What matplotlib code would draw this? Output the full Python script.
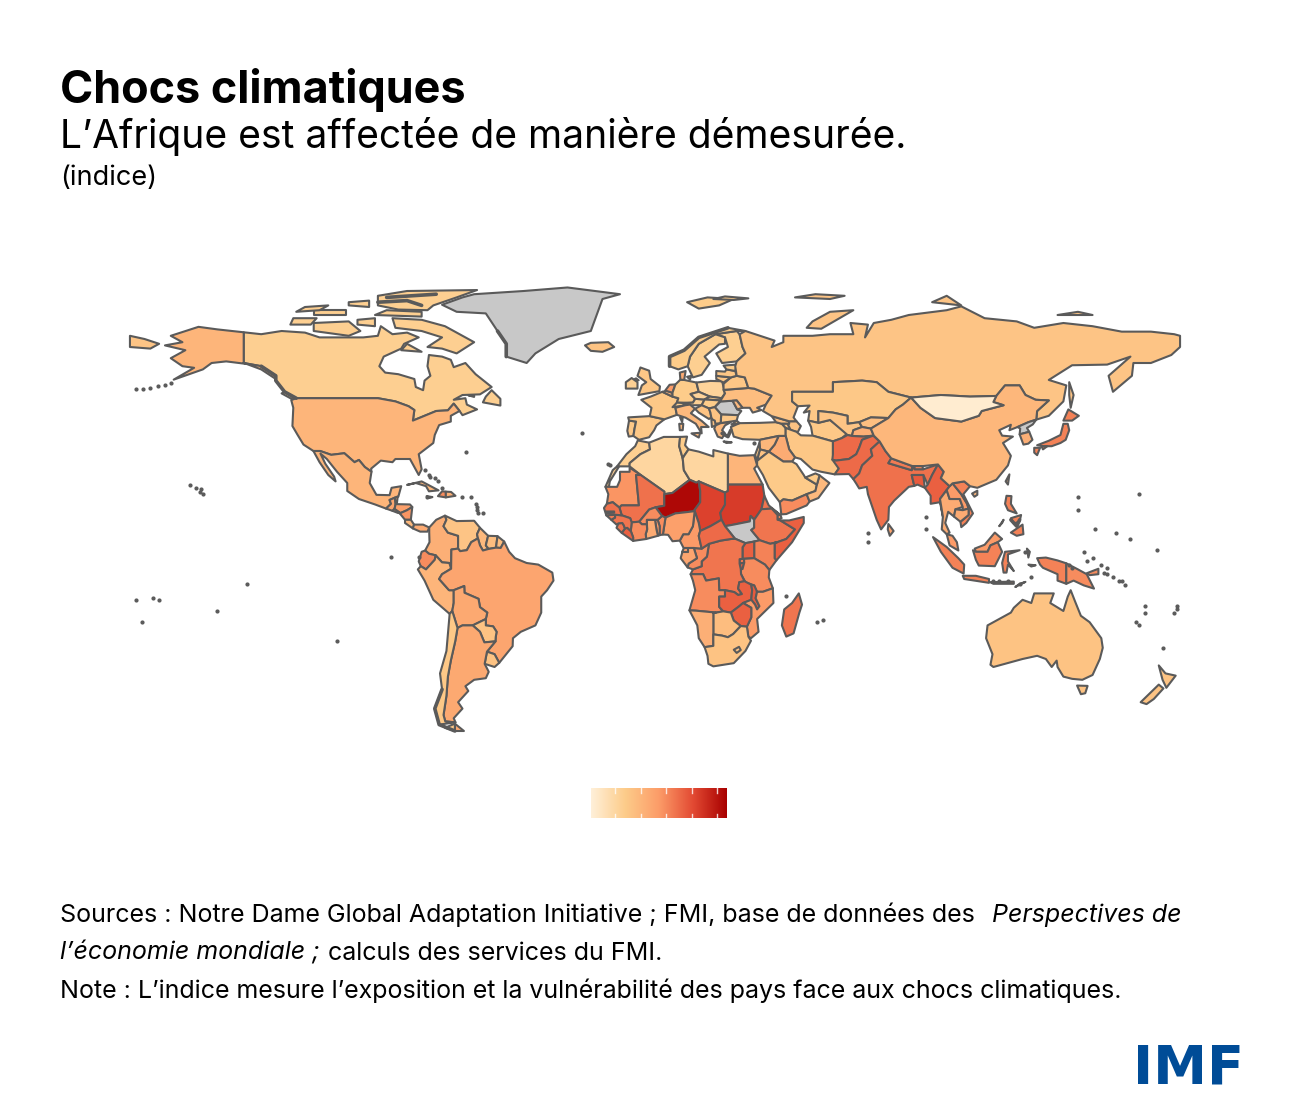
import numpy as np
import matplotlib
matplotlib.use("Agg")
import matplotlib.pyplot as plt
from matplotlib.colors import LinearSegmentedColormap

# index by country, None = no data (grey)
countries = ["Canada", "USA", "Alaska", "Greenland", "Iceland", "Mexico", "Guatemala", "Belize", "Honduras", "Salvador",
             "Nicaragua", "CostaRica", "Panama", "Cuba", "Haiti", "DomRep", "Jamaica", "Colombia", "Venezuela", "Guyana",
             "Suriname", "FrGuiana", "Ecuador", "Peru", "Brazil", "Bolivia", "Paraguay", "Uruguay", "Argentina", "Chile",
             "Morocco", "Algeria", "Tunisia", "Libya", "Egypt", "Mauritania", "Mali", "Niger", "Chad", "Sudan",
             "SouthSudan", "Eritrea", "Djibouti", "Ethiopia", "Somalia", "Kenya", "Uganda", "Rwanda", "Burundi", "Tanzania",
             "DRC", "Angola", "Congo", "Gabon", "EqGuinea", "Cameroon", "CAR", "Nigeria", "Benin", "Togo",
             "Ghana", "Burkina", "IvoryCoast", "Liberia", "SierraLeone", "Guinea", "GuineaBissau", "Senegal", "Gambia", "Zambia",
             "Malawi", "Mozambique", "Zimbabwe", "Botswana", "Namibia", "SouthAfrica", "Lesotho", "Madagascar",
             "Portugal", "Spain", "France", "Belgium", "Netherlands", "Germany", "Denmark", "Switzerland", "Austria", "Italy",
             "UK", "Ireland", "Poland", "Czechia", "Slovakia", "Hungary", "Romania", "Bulgaria", "Ukraine", "Moldova",
             "Belarus", "Lithuania", "Latvia", "Estonia", "Finland", "Sweden", "Norway", "Balkans", "Serbia", "Albania",
             "Greece", "Turkey", "Georgia", "Armenia", "Azerbaijan", "Russia", "Kazakhstan", "Turkmenistan", "Uzbekistan", "Kyrgyzstan",
             "Tajikistan", "Iran", "Iraq", "Syria", "Jordan", "Israel", "SaudiArabia", "Yemen", "Oman", "UAE",
             "Afghanistan", "Pakistan", "India", "Bangladesh", "Nepal", "Bhutan", "SriLanka", "Myanmar", "Thailand", "Laos",
             "Vietnam", "Cambodia", "Malaysia", "Indonesia", "PapuaNG", "Philippines", "China", "Mongolia", "NorthKorea", "SouthKorea",
             "Japan", "Australia", "NewZealand"]
values = [0.23, 0.37, 0.37, None, 0.30, 0.37, 0.45, 0.40, 0.48, 0.45,
          0.52, 0.35, 0.42, 0.36, 0.55, 0.40, 0.36, 0.40, 0.29, 0.35,
          0.33, 0.33, 0.55, 0.37, 0.45, 0.43, 0.30, 0.30, 0.43, 0.27,
          0.23, 0.18, 0.25, 0.18, 0.37, 0.52, 0.63, 0.97, 0.78, 0.80,
          None, 0.62, 0.55, 0.62, 0.68, 0.58, 0.68, 0.60, 0.68, 0.55,
          0.62, 0.55, 0.55, 0.45, 0.50, 0.50, 0.65, 0.48, 0.55, 0.50,
          0.42, 0.55, 0.55, 0.68, 0.62, 0.62, 0.60, 0.63, 0.55, 0.68,
          0.70, 0.50, 0.68, 0.33, 0.40, 0.30, 0.30, 0.62,
          0.27, 0.27, 0.27, 0.38, 0.50, 0.25, 0.42, 0.22, 0.22, 0.35,
          0.28, 0.22, 0.20, 0.20, 0.25, 0.25, None, 0.27, 0.33, 0.35,
          0.28, 0.28, 0.28, 0.25, 0.23, 0.23, 0.25, 0.30, 0.30, 0.32,
          0.35, 0.27, 0.32, 0.30, 0.30, 0.29, 0.27, 0.27, 0.29, 0.32,
          0.40, 0.28, 0.42, 0.36, 0.30, 0.28, 0.26, 0.55, 0.35, 0.25,
          0.65, 0.65, 0.63, 0.70, 0.60, 0.58, 0.45, 0.68, 0.42, 0.50,
          0.58, 0.42, 0.50, 0.58, 0.55, 0.58, 0.36, 0.03, None, 0.40,
          0.58, 0.30, 0.30]

# outlines in lon/lat
outlines = {
    "Canada": [[(-141,69.6),(-135,69),(-128,70),(-120,69.5),(-115,68),(-108,68),(-100,68),(-95,68.5),(-94,71.5),(-90,69),(-85,69.5),(-81,68),(-86,66),(-87,64.5),(-93,62),(-94.5,59),(-92.5,57),(-88,56.5),(-82.5,55),(-82,52.5),(-79.5,51.5),(-79,54.5),(-77,56),(-78,59),(-77.5,62.5),(-73,62),(-70,61),(-69,58.7),(-65,60),(-61.5,56.5),(-56,52.5),(-60,50.2),(-66,50),(-69,48.5),(-65,49),(-64.5,47),(-61,45.5),(-66,43.7),(-67,45),(-69,47.3),(-71,45.2),(-75,45),(-79,43.5),(-83,42),(-82.5,45.3),(-84.5,46.5),(-89,48),(-95,49),(-123,49),(-127,51),(-130,54.5),(-130,56),(-135,59),(-141,60)],
               [(-62,66.5),(-68,63),(-73,64.5),(-78,65),(-73,68),(-80,70),(-89,71),(-90,74),(-80,73.5),(-72,71.5),(-67,69)],
               [(-117,70),(-105,68.5),(-101,70),(-105,73),(-117,72.5)],
               [(-125,72),(-118,72),(-116,74),(-124,74)],
               [(-95,81),(-85,82.5),(-61,82.8),(-68,80.5),(-76,78),(-78,76.5),(-88,76.7),(-95,78)],
               [(-96,75),(-80,74.5),(-80,76),(-92,76.5)],
               [(-117,75),(-106,75),(-106,76.5),(-117,76.5)],
               [(-87,64),(-80,63.5),(-85,66)],
               [(-59,47.7),(-53,46.7),(-53,48.8),(-56,51.5),(-58,49.5)],
               [(-128,50.5),(-124,48.5),(-123.5,49),(-127,51)],
               [(-102,72),(-96,71.5),(-96,74),(-102,73.5)],
               [(-64,49.9),(-62,49.4),(-62,49.9)],
               [(-123,76),(-115,76.5),(-112,78),(-120,77.5)],
               [(-105,78),(-98,77.5),(-98,79.5),(-105,79)]],
    "USA": [[(-123,49),(-95,49),(-89,48),(-84.5,46.5),(-82.5,45.3),(-83,42),(-79,43.5),(-75,45),(-71,45.2),(-69,47.3),(-67,45),(-70,43.5),(-70,41.7),(-74,40.6),(-75.5,37.5),(-76,35),(-81,31.5),(-80,26.8),(-81,25),(-82.8,28),(-84,30),(-89,30),(-90,29),(-94,29.5),(-97.3,27),(-97.2,26),(-99.5,27.5),(-101.5,29.7),(-103,29),(-106.5,31.8),(-111,31.3),(-114.8,32.5),(-117.1,32.5),(-120.5,34.5),(-122.5,37.5),(-124.3,40.3),(-124,46),(-124.7,48.4)]],
    "Alaska": [[(-141,69.6),(-150,70.5),(-156.5,71.3),(-166,68.5),(-162,66.5),(-168,65.5),(-161,64),(-166,61.5),(-162,59),(-158,58.5),(-165,54.8),(-155,58),(-152,60),(-147,60.5),(-140,59.7),(-135,58),(-130,55),(-130,56),(-135,59),(-141,60)]],
    "Greenland": [[(-73,78.2),(-68,76),(-58,75.5),(-54,70),(-51,66),(-51,62),(-44,60),(-41,63),(-33,67.5),(-22,70),(-20,75),(-18,80),(-12,81.5),(-30,83.6),(-45,82.5),(-62,81.5),(-66,80.5)]],
    "Iceland": [[(-24,65.5),(-22,63.8),(-18,63.5),(-14,65),(-16,66.5),(-22,66.3)]],
    "Mexico": [[(-117.1,32.5),(-114.8,32.5),(-111,31.3),(-106.5,31.8),(-103,29),(-101.5,29.7),(-99.5,27.5),(-97.2,26),(-97.8,22.5),(-95.5,18.8),(-91,18.7),(-90.3,21),(-87,21.5),(-88,18.2),(-89.2,17.9),(-91,17.2),(-90.5,16),(-92.2,14.5),(-96,15.8),(-101.5,17.5),(-105.5,20),(-105.5,22.5),(-109,26),(-112.5,30),(-114.7,31.7),(-113,28.5),(-110,24.5),(-109.5,23),(-112,25),(-115,29)]],
    "Guatemala": [[(-92.2,14.5),(-90.5,16),(-91,17.2),(-89.2,17.9),(-88.9,15.9),(-89.3,14.4),(-90,13.8)]],
    "Belize": [[(-89.2,17.9),(-88.2,18.3),(-88.5,16),(-88.9,15.9)]],
    "Honduras": [[(-88.9,15.9),(-84,15.8),(-83.2,15),(-85,14),(-87.5,13),(-89.3,14.4)]],
    "Salvador": [[(-90,13.8),(-89.3,14.4),(-87.5,13.3),(-88,13.1)]],
    "Nicaragua": [[(-87.5,13),(-85,14),(-83.2,15),(-83.7,11),(-85.7,11)]],
    "CostaRica": [[(-85.7,11),(-83.7,11),(-82.6,9.5),(-83,8.3),(-85.7,10)]],
    "Panama": [[(-83,8.3),(-82.6,9.5),(-79.5,9.5),(-77.4,8.6),(-78,7.3),(-80.5,7.3)]],
    "Cuba": [[(-85,21.9),(-80,23),(-74.2,20.2),(-77.5,19.9),(-78.5,21.5),(-82,22.5)]],
    "Haiti": [[(-74.4,18.4),(-71.7,18),(-71.7,19.8),(-73,19.9)]],
    "DomRep": [[(-71.7,18),(-68.4,18.5),(-69.9,19.7),(-71.7,19.8)]],
    "Jamaica": [[(-78.3,18.4),(-76.3,18.1),(-77.3,17.8)]],
    "Colombia": [[(-77.4,8.6),(-75,11),(-72,12.3),(-71.5,11),(-72.5,9),(-71,7),(-67.5,6),(-67.5,2),(-69.8,1.7),(-69.9,-4.3),(-70.5,-2.5),(-73,-2.3),(-75.2,-0.1),(-77.5,0.4),(-78.8,1.4),(-77.3,4),(-77.4,7)]],
    "Venezuela": [[(-72,12.3),(-68,10.6),(-62,10.7),(-60,8.5),(-61,6.5),(-60.7,5.2),(-63,4),(-64.5,1.5),(-66.8,1.2),(-67.5,2),(-67.5,6),(-71,7),(-72.5,9),(-71.5,11)]],
    "Guyana": [[(-60,8.5),(-57.2,6),(-58,3),(-57,1.9),(-59,1.4),(-60,3),(-60.7,5.2),(-61,6.5)]],
    "Suriname": [[(-57.2,6),(-54,5.9),(-54.5,2.3),(-57,1.9),(-58,3)]],
    "FrGuiana": [[(-54,5.9),(-51.7,4.2),(-52.9,2.2),(-54.5,2.3)]],
    "Ecuador": [[(-80,1),(-78.8,1.4),(-77.5,0.4),(-75.2,-0.1),(-75.5,-1.5),(-78.5,-4.5),(-80.3,-3.5),(-81,-2)]],
    "Peru": [[(-81.3,-4.5),(-80.3,-3.5),(-78.5,-4.5),(-75.5,-1.5),(-75.2,-0.1),(-73,-2.3),(-70.5,-2.5),(-69.9,-4.3),(-73,-6),(-74,-7.5),(-70.6,-11),(-69,-11),(-69,-15),(-69.5,-17.5),(-70.4,-18.4),(-76,-14),(-79,-8)]],
    "Brazil": [[(-51.7,4.2),(-50,1),(-48,-1),(-44,-2.5),(-40,-3),(-35.2,-5.5),(-34.8,-8),(-37,-11),(-39,-13),(-39,-18),(-41,-22),(-46,-24),(-48.7,-26),(-48.8,-28.5),(-53.4,-33.7),(-55,-31),(-57.6,-30.2),(-54.7,-27),(-54.6,-25.6),(-54.3,-24),(-55.5,-22.3),(-58,-22),(-58,-20),(-57.5,-18),(-60,-16.3),(-60.5,-13.7),(-65.3,-11.8),(-65.4,-9.7),(-69,-11),(-70.6,-11),(-74,-7.5),(-73,-6),(-69.9,-4.3),(-69.8,1.7),(-67.5,2),(-66.8,1.2),(-64.5,1.5),(-63,4),(-60.7,5.2),(-60,3),(-59,1.4),(-57,1.9),(-54.5,2.3),(-52.9,2.2)]],
    "Bolivia": [[(-69,-11),(-65.4,-9.7),(-65.3,-11.8),(-60.5,-13.7),(-60,-16.3),(-57.5,-18),(-58,-20),(-62.5,-22),(-64,-22),(-66,-22),(-67.7,-22.8),(-69.5,-17.5),(-69,-15)]],
    "Paraguay": [[(-58,-20),(-58,-22),(-55.5,-22.3),(-54.3,-24),(-54.6,-25.6),(-54.7,-27),(-58.5,-27.3),(-60,-24),(-62.5,-22)]],
    "Uruguay": [[(-57.6,-30.2),(-55,-31),(-53.4,-33.7),(-55,-35),(-58.4,-34)]],
    "Argentina": [[(-66,-22),(-64,-22),(-62.5,-22),(-60,-24),(-58.5,-27.3),(-54.7,-27),(-57.6,-30.2),(-58.4,-34),(-57,-36.5),(-58,-38.5),(-62,-39),(-65,-41),(-64,-42.5),(-67.5,-46),(-66,-48),(-69,-51),(-68.4,-52.3),(-71.9,-52),(-72.5,-50),(-71.5,-44),(-71,-38),(-70,-33),(-68.5,-27),(-67.7,-22.8)],
                  [(-68.6,-52.7),(-65.5,-55),(-68.6,-55)]],
    "Chile": [[(-69.5,-17.5),(-67.7,-22.8),(-68.5,-27),(-70,-33),(-71,-38),(-71.5,-44),(-72.5,-50),(-71.9,-52),(-68.4,-52.3),(-74,-53),(-75.5,-48),(-73,-42),(-73.7,-37),(-71.5,-30),(-70.4,-18.4)],
              [(-68.6,-52.7),(-68.6,-55),(-72,-54)]],
    "Morocco": [[(-5.9,35.8),(-2,35.1),(-1.7,33),(-5,31.5),(-8.7,28.7),(-8.7,27.7),(-13,27.7),(-9.8,31.5),(-6.8,34)],
                [(-13,27.7),(-12.3,27.7),(-15.5,23),(-15.8,21.3),(-17,21.3),(-14.5,26.5)]],
    "Algeria": [[(-2,35.1),(3,36.9),(8.6,36.9),(8.3,34),(9.5,30.2),(9.9,26.5),(11.9,23.5),(6,19.4),(3.2,19),(3.2,19.8),(-4.9,25),(-8.7,27.7),(-8.7,28.7),(-5,31.5),(-1.7,33)]],
    "Tunisia": [[(8.6,36.9),(11,37),(10.3,34.3),(11.5,33),(10,31),(9.5,30.2),(8.3,34)]],
    "Libya": [[(11.5,33),(15,32.3),(20,30.8),(20,32.8),(25,31.7),(25,20),(24,19.5),(15,23),(14.2,22.6),(11.9,23.5),(9.9,26.5),(9.5,30.2),(10,31)]],
    "Egypt": [[(25,31.7),(29,31),(34,31.2),(35,28),(34,27),(36.9,22),(25,22)]],
    "Mauritania": [[(-17,21.3),(-13,21.3),(-12,23.4),(-12,26),(-8.7,26),(-8.7,27.3),(-4.9,25),(-6.5,25),(-5.5,15.5),(-11.5,15.5),(-12.2,14.8),(-14.5,16.5),(-16.5,16),(-16,19)]],
    "Mali": [[(-4.9,25),(3.2,19.8),(3.2,15.4),(0.2,14.9),(-2,14.2),(-5.4,10.4),(-8,10.2),(-8.5,11.5),(-11.4,12.4),(-12.2,14.8),(-11.5,15.5),(-5.5,15.5),(-6.5,25)]],
    "Niger": [[(3.2,19),(6,19.4),(11.9,23.5),(14.2,22.6),(15,23),(15.5,20),(15.5,16.5),(13.5,14),(13.6,13.7),(10,13.3),(7,13),(3.6,11.7),(2.4,12.2),(0.2,14.9),(3.2,15.4)]],
    "Chad": [[(15,23),(24,19.5),(24,15.7),(22.4,13.2),(22.8,11),(19,9),(15.5,7.5),(15,10),(13.6,13.7),(13.5,14),(15.5,16.5),(15.5,20)]],
    "Sudan": [[(25,22),(36.9,22),(37.5,18.5),(36.5,14.3),(34,11),(32.8,12.2),(32.5,10.5),(27,9.5),(24,9),(22.8,11),(22.4,13.2),(24,15.7),(24,19.5),(25,20)]],
    "SouthSudan": [[(24,9),(27,9.5),(32.5,10.5),(32.8,12.2),(34,11),(34,8.5),(33,7.8),(35.9,4.6),(34,4.2),(31,3.7),(27.4,5.1)]],
    "Eritrea": [[(36.5,14.3),(37.5,18.5),(39,15.5),(43,12.5),(40,14.5)]],
    "Djibouti": [[(43,12.5),(43.4,11.5),(42,11),(42,12.5)]],
    "Ethiopia": [[(36.5,14.3),(40,14.5),(42,12.5),(42,11),(43,10.8),(48,8),(45,5),(41.9,4),(39.5,3.5),(35.9,4.6),(33,7.8),(34,8.5),(34,11)]],
    "Somalia": [[(43,10.8),(46,10.8),(51,11.9),(51,10),(47,4),(41.6,-1.7),(41,-1),(41,3.8),(41.9,4),(45,5),(48,8)]],
    "Kenya": [[(41.6,-1.7),(39.2,-4.7),(37.7,-3),(34,-1),(34,4.2),(35.9,4.6),(39.5,3.5),(41.9,4),(41,3.8),(41,-1)]],
    "Uganda": [[(34,4.2),(34,-1),(30,-1.2),(30,2.4),(31,3.7)]],
    "Rwanda": [[(29,-1.3),(30.5,-1.2),(30.6,-2.4),(29,-2.7)]],
    "Burundi": [[(29,-2.7),(30.6,-2.4),(30,-4.4),(29.4,-4.4)]],
    "Tanzania": [[(34,-1),(37.7,-3),(39.2,-4.7),(39,-7),(40.4,-10.4),(37,-11.5),(34.9,-11.5),(34,-9.5),(31,-8.5),(29.5,-6),(29.4,-4.4),(30,-4.4),(30.6,-2.4),(30.5,-1.2)]],
    "DRC": [[(12.2,-6),(13,-4.5),(16,-3.5),(16,-2),(17.8,-0.5),(18.5,3.5),(22.5,4.5),(26,5),(27.4,5.1),(31,3.7),(30,2.4),(30,-1.2),(29,-1.3),(29,-2.7),(29.4,-4.4),(29.5,-6),(30.7,-8.2),(28.9,-8.5),(28.5,-10.5),(29.8,-12.2),(28.5,-12.5),(27.2,-11.6),(24,-11),(22,-11),(21.9,-7.3),(17.5,-8),(16.5,-6)]],
    "Angola": [[(12.2,-6),(16.5,-6),(17.5,-8),(21.9,-7.3),(22,-11),(24,-11),(24,-13),(22,-13),(22,-16.2),(23.4,-17.6),(21,-18),(14,-17.4),(11.8,-17.3),(13.8,-11),(13,-8)]],
    "Congo": [[(11.2,-3.9),(13,-4.5),(16,-3.5),(16,-2),(17.8,-0.5),(18.5,3.5),(16,2),(13.3,2.2),(14.4,-1),(11.5,-2.7)]],
    "Gabon": [[(9.4,1),(11.3,1),(11.3,2.2),(13.3,2.2),(14.4,-1),(11.5,-2.7),(11.2,-3.9),(8.8,-1)]],
    "EqGuinea": [[(9.4,1),(11.3,1),(11.3,2.2),(9.8,2.2)]],
    "Cameroon": [[(8.5,4.5),(9.8,2.2),(13.3,2.2),(16,2),(15,6),(15.5,7.5),(15,10),(13.6,13.7),(13,9),(11.5,6.5),(9.7,6.5)]],
    "CAR": [[(15.5,7.5),(15,6),(16,2),(18.5,3.5),(22.5,4.5),(26,5),(27.4,5.1),(24,9),(22.8,11),(19,9)]],
    "Nigeria": [[(2.7,6.4),(3.6,11.7),(7,13),(10,13.3),(13.6,13.7),(13,9),(11.5,6.5),(9.7,6.5),(8.5,4.5),(6,4.3),(4.5,6.3)]],
    "Benin": [[(1.6,6.2),(2.7,6.4),(3.6,11.7),(2.4,12.2),(0.9,11),(1.6,9)]],
    "Togo": [[(1,6),(1.6,6.2),(1.6,9),(0.9,11),(0,11),(0.5,8)]],
    "Ghana": [[(-3,5),(1,6),(0.5,8),(0,11),(-2.8,11),(-2.7,8),(-3.2,6.5)]],
    "Burkina": [[(-5.4,10.4),(-2,14.2),(0.2,14.9),(2.4,12.2),(0.9,11),(0,11),(-2.8,11),(-2.8,9.6),(-4.5,9.6)]],
    "IvoryCoast": [[(-7.5,4.4),(-3,5),(-3.2,6.5),(-2.7,8),(-2.8,9.6),(-4.5,9.6),(-5.4,10.4),(-8,10.2),(-8.3,7.5),(-7.5,5.5)]],
    "Liberia": [[(-11.4,6.9),(-7.5,4.4),(-7.5,5.5),(-8.3,7.5),(-9.5,8.5),(-10.3,8.3)]],
    "SierraLeone": [[(-13.2,8.5),(-11.4,6.9),(-10.3,8.3),(-10.7,9.3),(-11.2,10),(-12.5,9.9)]],
    "Guinea": [[(-15,11),(-13.2,9.5),(-12.5,9.9),(-11.2,10),(-10.7,9.3),(-10.3,8.3),(-9.5,8.5),(-8.3,7.5),(-8,10.2),(-8.5,11.5),(-11.4,12.4),(-13.7,12.6),(-13.7,11.7)]],
    "GuineaBissau": [[(-16.7,12.4),(-13.7,12.6),(-13.7,11.7),(-15,11)]],
    "Senegal": [[(-16.5,16),(-14.5,16.5),(-12.2,14.8),(-11.4,12.4),(-13.7,12.6),(-16.7,12.4),(-17.5,14.7)]],
    "Gambia": [[(-16.8,13.6),(-14,13.6),(-14,13.2),(-16.8,13.1)]],
    "Zambia": [[(22,-13),(24,-13),(24,-11),(27.2,-11.6),(28.5,-12.5),(29.8,-12.2),(28.5,-10.5),(28.9,-8.5),(30.7,-8.2),(33,-9.3),(33.3,-11),(33,-14),(30.2,-15),(28.9,-16),(26,-18),(23.4,-17.6),(22,-16.2)]],
    "Malawi": [[(33,-9.3),(34,-9.5),(35,-11.5),(34.5,-13.5),(35.8,-16),(35,-17),(34.3,-15.5),(33,-14),(33.3,-11)]],
    "Mozambique": [[(34.9,-11.5),(37,-11.5),(40.4,-10.4),(40.6,-15),(35,-20),(35.5,-24),(32.9,-26),(32,-25.5),(31.5,-22.4),(33,-19.5),(33,-16.5),(30.2,-15),(33,-14),(34.3,-15.5),(35,-17),(35.8,-16),(34.5,-13.5),(35,-11.5)]],
    "Zimbabwe": [[(26,-18),(28.9,-16),(30.2,-15),(33,-16.5),(33,-19.5),(31.5,-22.4),(29.4,-22.2),(27,-20.5)]],
    "Botswana": [[(20,-18.2),(21,-18),(23.4,-17.6),(26,-18),(27,-20.5),(29.4,-22.2),(26.8,-24.7),(25,-25.7),(23,-25.2),(20,-24.8),(20,-22)]],
    "Namibia": [[(11.8,-17.3),(14,-17.4),(21,-18),(20,-18.2),(20,-22),(20,-28.4),(17,-28.8),(15,-26),(14.5,-22)]],
    "SouthAfrica": [[(17,-28.8),(20,-28.4),(20,-24.8),(23,-25.2),(25,-25.7),(26.8,-24.7),(29.4,-22.2),(31.5,-22.4),(32,-25.5),(32.9,-26.8),(31,-30),(27,-33.8),(20,-34.8),(18.3,-34),(18,-31.5)]],
    "Lesotho": [[(27,-29.6),(28.8,-28.7),(29.4,-29.7),(28,-30.6)]],
    "Madagascar": [[(49.3,-12),(50.4,-15.5),(49.5,-18),(47.5,-24.5),(45,-25.5),(43.5,-22),(44.3,-17),(47,-15)]],
    "Portugal": [[(-8.9,42),(-6.5,41.7),(-7,39.5),(-7.4,37.2),(-9,37),(-9.5,38.8)]],
    "Spain": [[(-9.2,43),(-1.8,43.4),(3.2,42.4),(0.5,40.5),(-0.3,39),(-2,36.8),(-5.5,36),(-7.4,37.2),(-7,39.5),(-6.5,41.7),(-8.9,42)]],
    "France": [[(-1.8,43.4),(3.2,42.4),(7.5,43.8),(7,46),(8,49),(6,49.5),(2.5,51),(-1.5,49.5),(-4.7,48.5),(-1.2,46)],
               [(8.6,43),(9.5,42.9),(9.3,41.5)]],
    "Belgium": [[(2.5,51),(6,49.5),(6,50.7),(4,51.3)]],
    "Netherlands": [[(3.5,51.4),(6,50.7),(7,53.3),(5,53.2)]],
    "Germany": [[(6,50.7),(6,49.5),(8,49),(7.5,47.6),(13,47.6),(13.8,48.8),(12.2,50.3),(15,51),(14.2,53.9),(10,54.7),(8.7,54.8),(7,53.3)]],
    "Denmark": [[(8.5,57),(10.5,57.5),(10,54.7),(8.7,54.8)],
                [(11,55.7),(12.5,56),(12,54.8)]],
    "Switzerland": [[(6,46.2),(10.4,46.8),(9.5,47.5),(7.5,47.6)]],
    "Austria": [[(9.6,47.4),(13,47.6),(13.8,48.8),(17,48.6),(16,46.8),(10.4,46.8)]],
    "Italy": [[(7,46),(7.5,43.8),(10.5,42.9),(14,41),(16,38),(15.8,40),(18.4,40),(16,41.9),(12.3,44.3),(13.7,45.7),(12,47),(10.4,46.8)],
              [(12.5,38),(15.5,38.2),(15,36.7)],
              [(8.3,41),(9.7,41),(9.5,39),(8.5,39)]],
    "UK": [[(-5.7,50),(1.5,51.2),(1.7,52.7),(-1.5,55),(-2,57.6),(-5,58.6),(-6,56),(-3,54),(-4.5,53),(-5,51.7)],
           [(-8,54.5),(-5.6,54.6),(-6.5,55.2)]],
    "Ireland": [[(-10,52),(-6,52),(-6,54),(-8,55.3),(-10,54)]],
    "Poland": [[(14.2,53.9),(15,51),(18.8,49.5),(22.8,49),(24,50.5),(23.5,52.5),(23,54.3),(19,54.4)]],
    "Czechia": [[(12.2,50.3),(13.8,48.8),(17,48.6),(18.8,49.5),(15,51)]],
    "Slovakia": [[(17,48.6),(22.5,48.3),(22.8,49),(18.8,49.5)]],
    "Hungary": [[(16,46.8),(17,48.6),(22.5,48.3),(20.5,46.2),(18.5,45.8)]],
    "Romania": [[(20.5,46.2),(22.5,48),(26.6,48.2),(28.2,45.5),(29.6,45),(28.5,43.7),(22.7,43.9)]],
    "Bulgaria": [[(22.7,43.9),(28.5,43.7),(28,42),(22.5,41.2)]],
    "Ukraine": [[(22.5,48.3),(24,50.5),(23.5,51.6),(32,52.2),(34,52),(40,49.8),(38,47),(35,46),(36.5,45.3),(33.5,44.5),(32.5,46),(30,46),(28,48.3),(26.6,48.2),(22.5,48)]],
    "Moldova": [[(26.6,48.2),(28,48.3),(30,46),(28.2,45.5)]],
    "Belarus": [[(23.5,51.6),(32,52.2),(30.8,55.5),(28,56),(26,55.5),(23.5,53.5)]],
    "Lithuania": [[(21,56),(26,55.5),(23.5,53.9),(21,55)]],
    "Latvia": [[(21,57.5),(24,57.3),(24.5,58),(27.5,57.5),(28,56),(26,55.5),(21,56)]],
    "Estonia": [[(23.5,59.2),(28,59.5),(27.5,57.5),(24.5,58)]],
    "Finland": [[(21,63),(25,65),(24,68),(20.7,69),(28,70),(29,69),(30,65),(31,63),(28,60.5),(23,60)]],
    "Sweden": [[(11.2,59),(13,55.5),(16,56.3),(18.8,60),(17,62),(22,65.8),(24,66),(24,68),(20.7,69),(15,66),(12,62)]],
    "Norway": [[(5,59),(8,58),(11.2,59),(12,62),(15,66),(20.7,69),(28,70),(31,70),(25,71),(15,68),(10,64),(5,62)],
               [(11,79),(15,77),(22,78),(27,80),(18,80.5)],
               [(20,80),(27,79.7),(32,80.2),(24,80.8)]],
    "Balkans": [[(13.7,45.7),(16,46.8),(18.5,45.8),(19,44.5),(19.3,43),(18.5,42.5),(15,44.5)]],
    "Serbia": [[(18.5,45.8),(20.5,46.2),(22.7,43.9),(22.5,41.2),(20.5,41),(19.3,43),(19,44.5)]],
    "Albania": [[(19.3,42.5),(20.5,42),(20.8,40.5),(19.5,40)]],
    "Greece": [[(20.3,39.5),(20.8,40.5),(22.5,41.2),(26,41.5),(24,40.5),(23,39),(24,38),(23,36.5),(21.5,37)],
               [(23.5,35.5),(26.3,35.2),(24.5,35)]],
    "Turkey": [[(26,40),(29,41.2),(36,41.3),(41.5,41.5),(43.5,41),(44.8,39.7),(44.8,37.2),(42.4,37.2),(36,36),(30,36.2),(27,37)],
               [(26.2,40.7),(28,42),(29,41.2),(27,40.8)]],
    "Georgia": [[(40,43.4),(46,41.8),(46,41),(43.5,41),(41.5,41.5)]],
    "Armenia": [[(43.5,41),(45.5,41),(46.5,39),(44.8,39.7)]],
    "Azerbaijan": [[(46,41.8),(48.5,41.8),(50,40.3),(49,38.5),(48.5,38.5),(46.5,39),(45.5,41),(46,41)]],
    "Russia": [[(28,60.5),(31,63),(30,65),(29,69),(31,70),(41,67),(40,65),(44,66.5),(44,68.5),(54,68.5),(60,69),(68,69),(67,72.5),(73,72),(72,68),(75,72.5),(81,73.5),(87,75),(100,76.5),(105,77.7),(113,74),(124,73),(130,71),(140,72.5),(150,71.5),(160,69.8),(170,69.8),(178,69),(180,68.5),(180,65),(177,62.5),(170,60),(164,60),(163.5,56),(157,51),(155.5,56),(163,62),(155,59.5),(143,59.3),(135,54.7),(141,53),(140,48),(135,43.5),(130.7,42.3),(131,45),(135,48.3),(130.5,48.5),(127,50),(125,53),(120,53),(117,49.7),(108,49.5),(98,50),(87.8,49.2),(80,51),(76,54),(71,54.5),(61,54),(61,51),(55,51),(47,51),(47,48),(49,46.5),(47.5,43),(48.5,41.8),(46,41.8),(40,43.4),(37,45),(38,47),(40,49.8),(34,52),(32,52.2),(30.8,55.5),(28,56),(27.5,59)],
               [(-180,68.5),(-175,67.5),(-170,66),(-173,64.5),(-180,65)],
               [(142,54),(143.5,50),(142.5,46),(142,50)],
               [(52,71),(57,70.7),(68,76.5),(60,76),(54,73)],
               [(95,79),(105,78),(100,81)],
               [(138,75),(150,75),(145,76)],
               [(48,80.5),(60,80),(65,81),(55,81.5)]],
    "Kazakhstan": [[(47,51),(55,51),(61,51),(61,54),(71,54.5),(76,54),(80,51),(87.8,49.2),(85,47),(82.5,45.5),(80,42.8),(74,43),(70,41.5),(66,41),(66,43.5),(61,44.5),(56,45),(56,41.3),(52.5,42),(53,45),(51,44.5),(53,46.7),(49,46.5),(47,48)]],
    "Turkmenistan": [[(52.5,42),(56,41.3),(60,42.2),(66,38),(64,36.5),(61,35.5),(54,37.3),(53.5,40)]],
    "Uzbekistan": [[(56,41.3),(56,45),(61,44.5),(66,43.5),(66,41),(70,41.5),(71,40),(68,39),(67.5,37.2),(66,37.5),(60,42.2)]],
    "Kyrgyzstan": [[(70,41.5),(74,43),(80,42.8),(74,39.5),(71,40)]],
    "Tajikistan": [[(68,39),(71,40),(74,39.5),(75,37.3),(71.5,37),(67.5,37.2)]],
    "Iran": [[(44.8,39.7),(48.5,38.5),(50,37.4),(54,37.3),(61,35.5),(61,31.5),(63,27),(61.6,25.2),(57,26),(54,26.7),(50,30),(48,30.5),(46,33),(44.8,37.2)]],
    "Iraq": [[(42.4,37.2),(44.8,37.2),(46,33),(48,30.5),(47,29.2),(44,29.2),(39,32.3),(41,34.5)]],
    "Syria": [[(36,36),(42.4,37.2),(41,34.5),(39,32.3),(36,33),(35.8,35)]],
    "Jordan": [[(35,29.4),(39,32.3),(36,33),(35.5,31.5)]],
    "Israel": [[(34.3,31.3),(35,29.4),(35.5,31.5),(36,33),(35.8,35),(35,33)]],
    "SaudiArabia": [[(35,28),(37,25),(39,21),(42.8,16.5),(44,17.4),(47,17),(52,19),(55,20),(55.5,22),(51.5,24.2),(51,25),(48.5,28.4),(47,29.2),(44,29.2),(39,32.3),(35,29.4)]],
    "Yemen": [[(42.8,16.5),(43.3,12.7),(45,12.8),(52,15.5),(53,16.7),(52,19),(47,17),(44,17.4)]],
    "Oman": [[(52,19),(53,16.7),(56,17.8),(59.8,22.5),(56.4,24.9),(55.5,22),(55,20)]],
    "UAE": [[(51.5,24.2),(55.5,22),(56.4,24.9),(55,25.5)]],
    "Afghanistan": [[(61,35.5),(64,36.5),(66,37.5),(67.5,37.2),(71.5,37),(74.8,37.3),(71,36),(70,33.5),(69,31.5),(66.5,30),(62,29.5),(60.8,29.8),(61,31.5)]],
    "Pakistan": [[(61.6,25.2),(63,27),(60.8,29.8),(62,29.5),(66.5,30),(69,31.5),(70,33.5),(71,36),(74.8,37.3),(77,35.5),(74,33),(74.5,31),(71,28),(70,25.5),(68,23.7),(66.5,25.3)]],
    "India": [[(68,23.7),(70,25.5),(71,28),(74.5,31),(74,33),(77,35.5),(79,32.5),(81,30.2),(80,28.7),(88,26.5),(88.2,27.8),(89,26.8),(92,26.8),(97,28.3),(95,25),(93.5,22),(92,25),(88,25),(88.9,21.6),(87,21.3),(82,17),(80.2,15),(80,11),(77.5,8),(76,11),(73,19),(72.6,21.3),(70,20.8),(69,22.3)]],
    "Bangladesh": [[(88,25),(92,25),(92.5,21),(90,22),(88.9,21.6)]],
    "Nepal": [[(80,28.7),(81,30.2),(88.2,27.8),(88,26.5)]],
    "Bhutan": [[(89,26.8),(92,26.8),(91.5,28),(89,27.8)]],
    "SriLanka": [[(80,9.7),(81.8,7.5),(80.5,6),(79.8,8)]],
    "Myanmar": [[(92.5,21),(93.5,22),(95,25),(97,28.3),(99,26),(98,24),(101,21.5),(100,20.3),(97.7,17.5),(98.7,12),(97.7,16.5),(94.5,16),(94.5,18.5)]],
    "Thailand": [[(97.7,17.5),(100,20.3),(101,17.5),(104.5,17.5),(105.5,15),(103,14.3),(102.5,12),(100.5,13.5),(99.5,10),(101,7),(100,6.5),(98.3,8),(98.7,12)]],
    "Laos": [[(101,21.5),(102,22.4),(105,19),(107,16),(107.5,14.5),(105.5,14),(105.5,15),(104.5,17.5),(101,17.5),(100,20.3)]],
    "Vietnam": [[(102,22.4),(106,23),(108,21.5),(105.7,19),(109,13),(106.7,10),(105,8.7),(104.7,10.4),(107.5,12.5),(107.5,14.5),(107,16),(105,19)]],
    "Cambodia": [[(103,14.3),(105.5,14),(107.5,14.5),(107.5,12.5),(104.7,10.4),(102.5,12)]],
    "Malaysia": [[(100,6.5),(102,6),(103.5,4),(104,1.4),(101,3)],
                 [(109.6,2),(113,3.2),(116.5,7),(119,5),(117.5,4),(115,3),(114,1),(110,1)]],
    "Indonesia": [[(109,1.5),(110,1),(114,1),(115,3),(117.5,4),(119,1),(116.5,-3.5),(111,-3.3),(110,-1.5)],
                  [(95.3,5.6),(100,2.5),(104,-1),(106,-3),(105.8,-5.8),(102,-4),(98,1)],
                  [(105.5,-6.5),(110,-6.5),(114.5,-7.5),(114.5,-8.7),(106,-7.5)],
                  [(115,-8.5),(123,-8.3),(123,-9),(116,-9)],
                  [(123.5,-10),(127,-8.4),(125,-9)],
                  [(119.5,-5.5),(119,-2.5),(120,1),(125,1.5),(121,0.2),(121,-2),(123,-5),(121,-3),(120.5,-5.5)],
                  [(127.5,2),(128.5,1),(128,-0.8)],
                  [(128,-3),(130.5,-3.2),(129,-3.6)],
                  [(131,-1),(134,-0.8),(138,-1.7),(141,-2.6),(141,-9),(138,-8),(138,-6),(133,-4),(132,-3)]],
    "PapuaNG": [[(141,-2.6),(145,-4.5),(148,-6),(150.5,-10.5),(147,-9.5),(143.5,-8),(141,-9)],
                [(148,-5.7),(152,-4.3),(152,-6),(149,-6.3)]],
    "Philippines": [[(120.5,18.5),(122.2,18.4),(122,16),(124,13),(121,14),(120,16)],
                    [(122,7),(126,9.5),(126.3,6.5),(124,6)],
                    [(122,11.5),(125.5,12.5),(125,10.5),(123,9.8)],
                    [(118,9),(119.5,11),(119,10)]],
    "China": [[(74,39.5),(80,42.8),(82.5,45.5),(85,47),(87.8,49.2),(91,46),(96,42.8),(105,41.7),(111,43.5),(112,45),(119.5,46.8),(116,47.8),(117,49.7),(120,53),(125,53),(127,50),(130.5,48.5),(135,48.3),(131,45),(130.7,42.3),(128,41.5),(124.3,40),(121.5,39),(122,40.7),(118,39),(119,37.3),(122.7,37),(119.3,35),(122,31),(121,28),(117,23.5),(110.5,21),(108,21.5),(106,23),(102,22.4),(101,21.5),(98,24),(99,26),(97,28.3),(92,27.8),(88.2,27.8),(81,30.2),(79,32.5),(77,35.5),(75,37.3)],
              [(108.7,19.2),(110.5,20.1),(110.5,18.8),(109.5,18.2)],
              [(120.2,23),(121.5,25.2),(121,22)]],
    "Mongolia": [[(87.8,49.2),(98,50),(108,49.5),(117,49.7),(116,47.8),(119.5,46.8),(112,45),(111,43.5),(105,41.7),(96,42.8),(91,46)]],
    "NorthKorea": [[(124.3,40),(128,41.5),(130.7,42.3),(129.5,40.8),(127.5,39.7),(128.3,38.5),(125,37.7),(125.2,39.5)]],
    "SouthKorea": [[(125,37.7),(128.3,38.5),(129.4,36),(128,34.8),(126.3,34.5)]],
    "Japan": [[(131,34.3),(135,35.7),(139,37.5),(140,41),(141.5,41),(142,39),(140.8,36),(139,35),(136,34),(133,34)],
              [(130,33.5),(132,33.5),(131,31.2),(130,32)],
              [(132.5,34),(134.5,34),(133,33)],
              [(140,42),(141.7,45.5),(145.3,43.5),(143,42)]],
    "Australia": [[(114,-22),(117,-20.5),(122,-18),(123,-16.5),(126,-14),(129,-15),(130,-12),(136.7,-12),(135.5,-15),(140,-17.5),(141.5,-13),(142.5,-11),(144,-14.5),(146,-19),(149,-21),(153,-26),(153.5,-29),(152.5,-32.5),(150,-37.5),(146.5,-39),(143,-38.7),(140,-38),(138,-35),(137.7,-33),(136,-35),(134,-32.5),(131,-31.5),(126,-32.5),(124,-33),(120,-34),(116,-35),(115,-34.3),(115.7,-31),(113.5,-26)],
                  [(144.7,-40.8),(148.3,-40.9),(147.5,-43.2),(146,-43.5)]],
    "NewZealand": [[(172.7,-34.5),(175,-37),(178.5,-37.7),(175.3,-41.5),(174,-39)],
                   [(172.7,-40.5),(174.3,-41.7),(171,-45),(168.5,-46.6),(166.5,-46)]],
}

# fjords and tight island channels, drawn as heavy coast lines
heavy_coasts = [
    [(-135,59),(-130,56),(-130,54.5),(-127,51),(-123,49)],
    [(-73,-42),(-75.5,-48),(-74,-53),(-68.6,-55)],
    [(-54,70),(-51,66),(-51,62)],
    [(-95,79),(-85,79.5),(-80,78)],
    [(-92,80.5),(-75,81.5)],
    [(5,59),(5,62),(10,64),(15,68),(25,71)],
    [(23,38),(25,37),(26,39)],
    [(122,11),(124,9),(125,11)],
]

# small islands drawn as dots (lon, lat)
islet_lon = [-156, -157.5, -159.5, -155.5, -90.5, -77.5, -75.5, -73, -61.5, -61, -61, -60.8, -63, -66, -78, -64.7, -16, -25, -15.5,
             55.5, 57.5, 45, 73, 73, 92.8, 93, 145, 145, 166, 172, 158, 151, 163, 168, 168, 165, 166, 178, 179, 159, 161, 157, 154,
             -170, -172, -150, -140, -109, -81, -59, 179, -178, -176, 174, 127, 147, 153, 155, 34,
             -155, 116, 118, 121, 125, 129, 142, 150, 155, 160, 148, 143,
             -178, -175.5, -173, -170.5, -168, -166, -79, -77, -74.5]
islet_lat = [19.6, 21, 22, 20.5, -0.5, 25, 24, 21, 16, 15, 14, 13, 18, 18.2, 18.2, 32.3, 28.3, 38, 28,
             -21, -20.3, -12.8, 4, 7, 12, 8, 14, 18, 19, 1.5, 7, 8, 5, -16, -18, -21, -22, -18, -17, -8, -9.5, -7, -5.5,
             -14, -13.5, -17.5, -9, -27, -0.7, 13, -16, -14, -21, -29, 1, 1, -3, -6, 35,
             19, -8, -8, -8, -9, -7, -3, -1, -4, -8, -2, -4,
             52, 52, 52.3, 52.7, 53.2, 53.8, 26.5, 24.5, 23]

cmap = LinearSegmentedColormap.from_list("orrd", ["#fff0d9", "#fdcc8a", "#fc9c68", "#e34a33", "#a80000"])
no_data = "#c8c8c8"
edge = "#5a5a5a"

fig = plt.figure(figsize=(13, 11.06), dpi=100, facecolor="white")
ax = fig.add_axes([0, 0, 1, 1])
ax.set_xlim((0 - 655) / 2.917, (1300 - 655) / 2.917)
ax.set_ylim((555 - 1106) / 3.2, (555 - 0) / 3.2)
ax.axis("off")

for name, val in zip(countries, values):
    col = no_data if val is None else cmap(val)
    for poly in outlines[name]:
        xs, ys = zip(*poly)
        ax.fill(xs, ys, facecolor=col, edgecolor=edge, linewidth=1.5, joinstyle="round", zorder=2)

for line in heavy_coasts:
    xs, ys = zip(*line)
    ax.plot(xs, ys, color=edge, lw=2.6, solid_capstyle="round", zorder=3)

ax.plot(islet_lon, islet_lat, ls="none", marker="o", ms=2, color=edge, zorder=3)

# colour scale
cax = fig.add_axes([591 / 1300, 1 - 818 / 1106, 136 / 1300, 30 / 1106])
cax.imshow(np.linspace(0, 1, 256).reshape(1, -1), cmap=cmap, aspect="auto", extent=[0, 1, 0, 1])
cax.set_xlim(0, 1)
cax.set_ylim(0, 1)
cax.axis("off")
for t in [0.18, 0.37, 0.55, 0.74, 0.93]:
    cax.plot([t, t], [0, 0.15], color="white", lw=1, alpha=0.8)
    cax.plot([t, t], [0.85, 1], color="white", lw=1, alpha=0.8)

font = "Inter"
fig.text(60 / 1300, 1 - 103 / 1106, "Chocs climatiques", fontsize=32.4, fontweight="bold", family=font, color="black")
fig.text(60 / 1300, 1 - 148 / 1106, "L\u2019Afrique est affect\u00e9e de mani\u00e8re d\u00e9mesur\u00e9e.", fontsize=28.1, family=font, color="black")
fig.text(60 / 1300, 1 - 185 / 1106, "(indice)", fontsize=19.5, family=font, color="black")

fig.text(60 / 1300, 1 - 922 / 1106, "Sources : Notre Dame Global Adaptation Initiative ; FMI, base de donn\u00e9es des", fontsize=18, family=font, color="black")
fig.text(992 / 1300, 1 - 922 / 1106, "Perspectives de", fontsize=18, family=font, style="italic", color="black")
fig.text(60 / 1300, 1 - 960 / 1106, "l\u2019\u00e9conomie mondiale ;", fontsize=18, family=font, style="italic", color="black")
fig.text(328 / 1300, 1 - 960 / 1106, "calculs des services du FMI.", fontsize=18, family=font, color="black")
fig.text(60 / 1300, 1 - 998 / 1106, "Note : L\u2019indice mesure l\u2019exposition et la vuln\u00e9rabilit\u00e9 des pays face aux chocs climatiques.", fontsize=18, family=font, color="black")

fig.text(1244 / 1300, 1 - 1083 / 1106, "IMF", fontsize=39, fontweight="bold", family="DejaVu Sans", color="#004c97", ha="right", va="baseline")

fig.savefig("out.png", dpi=100)
